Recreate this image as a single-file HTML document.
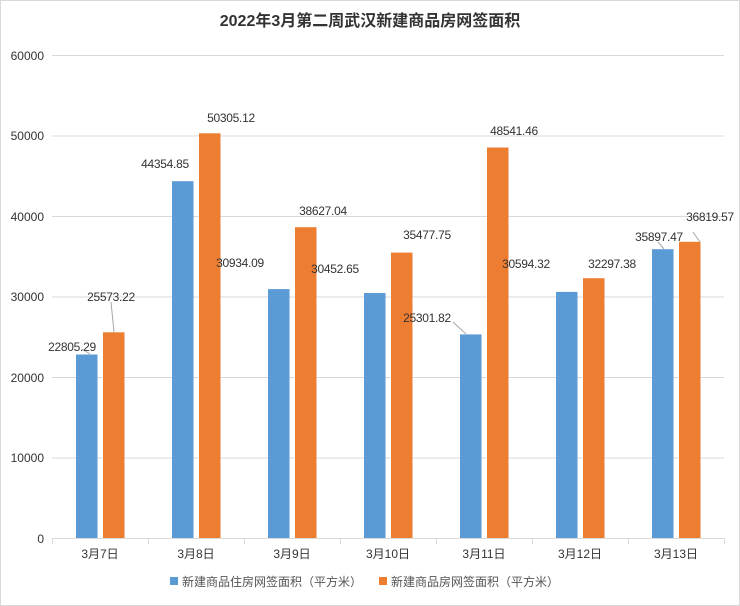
<!DOCTYPE html>
<html><head><meta charset="utf-8"><style>
body{margin:0;background:#fff}
svg{display:block;font-family:"Liberation Sans","Noto Sans CJK SC",sans-serif}
</style></head><body>
<svg width="740" height="606" viewBox="0 0 740 606">
<rect x="0.5" y="0.5" width="739" height="605" fill="#fff" stroke="#d9d9d9"/>
<text x="370" y="26" text-anchor="middle" font-size="16" font-weight="bold" fill="#333">2022年3月第二周武汉新建商品房网签面积</text>
<g stroke="#d9d9d9" stroke-width="1">
<line x1="52" y1="55.5" x2="724" y2="55.5"/>
<line x1="52" y1="136" x2="724" y2="136"/>
<line x1="52" y1="216.5" x2="724" y2="216.5"/>
<line x1="52" y1="297" x2="724" y2="297"/>
<line x1="52" y1="377.5" x2="724" y2="377.5"/>
<line x1="52" y1="458" x2="724" y2="458"/>
<line x1="52" y1="538.5" x2="724" y2="538.5"/>
<line x1="52.5" y1="538" x2="52.5" y2="544"/><line x1="148.5" y1="538" x2="148.5" y2="544"/><line x1="244.5" y1="538" x2="244.5" y2="544"/><line x1="340.5" y1="538" x2="340.5" y2="544"/><line x1="436.5" y1="538" x2="436.5" y2="544"/><line x1="532.5" y1="538" x2="532.5" y2="544"/><line x1="628.5" y1="538" x2="628.5" y2="544"/><line x1="724.5" y1="538" x2="724.5" y2="544"/>
</g>
<g font-size="12" fill="#333" text-anchor="end">
<text x="44" y="60">60000</text><text x="44" y="140">50000</text><text x="44" y="221">40000</text><text x="44" y="301">30000</text><text x="44" y="382">20000</text><text x="44" y="462">10000</text><text x="44" y="543">0</text>
</g>
<g fill="#5b9bd5">
<rect x="76" y="354.5" width="21.5" height="183.5"/>
<rect x="172" y="181.2" width="21.5" height="356.8"/>
<rect x="268" y="289.1" width="21.5" height="248.9"/>
<rect x="364" y="293" width="21.5" height="245"/>
<rect x="460" y="334.4" width="21.5" height="203.6"/>
<rect x="556" y="291.9" width="21.5" height="246.1"/>
<rect x="652" y="249.2" width="21.5" height="288.8"/>
</g>
<g fill="#ed7d31">
<rect x="103" y="332.3" width="21.5" height="205.7"/>
<rect x="199" y="133.3" width="21.5" height="404.7"/>
<rect x="295" y="227.2" width="21.5" height="310.8"/>
<rect x="391" y="252.6" width="21.5" height="285.4"/>
<rect x="487" y="147.5" width="21.5" height="390.5"/>
<rect x="583" y="278.2" width="21.5" height="259.8"/>
<rect x="679" y="241.8" width="21.5" height="296.2"/>
</g>
<g stroke="#a6a6a6" stroke-width="1">
<line x1="82" y1="349" x2="90" y2="354"/>
<line x1="111" y1="302" x2="114" y2="332"/>
<line x1="658" y1="242" x2="664" y2="249"/>
<line x1="693" y1="232" x2="700" y2="242"/>
<line x1="453" y1="322" x2="466" y2="334"/>
</g>
<g font-size="12" fill="#333" text-anchor="middle" letter-spacing="-0.3">
<text x="72" y="351">22805.29</text>
<text x="111" y="301">25573.22</text>
<text x="165" y="168">44354.85</text>
<text x="231" y="122">50305.12</text>
<text x="240" y="267">30934.09</text>
<text x="323" y="215">38627.04</text>
<text x="335" y="273">30452.65</text>
<text x="427" y="239">35477.75</text>
<text x="427" y="322">25301.82</text>
<text x="514" y="135">48541.46</text>
<text x="526" y="268">30594.32</text>
<text x="612" y="268">32297.38</text>
<text x="659" y="241">35897.47</text>
<text x="710" y="221">36819.57</text>
</g>
<g font-size="12" fill="#333" text-anchor="middle">
<text x="100" y="558">3月7日</text><text x="196" y="558">3月8日</text><text x="292" y="558">3月9日</text><text x="388" y="558">3月10日</text><text x="484" y="558">3月11日</text><text x="580" y="558">3月12日</text><text x="676" y="558">3月13日</text>
</g>
<rect x="170" y="577" width="8" height="8" fill="#5b9bd5"/>
<text x="182" y="586" font-size="12" fill="#555">新建商品住房网签面积（平方米）</text>
<rect x="379" y="577" width="8" height="8" fill="#ed7d31"/>
<text x="391" y="586" font-size="12" fill="#555">新建商品房网签面积（平方米）</text>
</svg>
</body></html>
